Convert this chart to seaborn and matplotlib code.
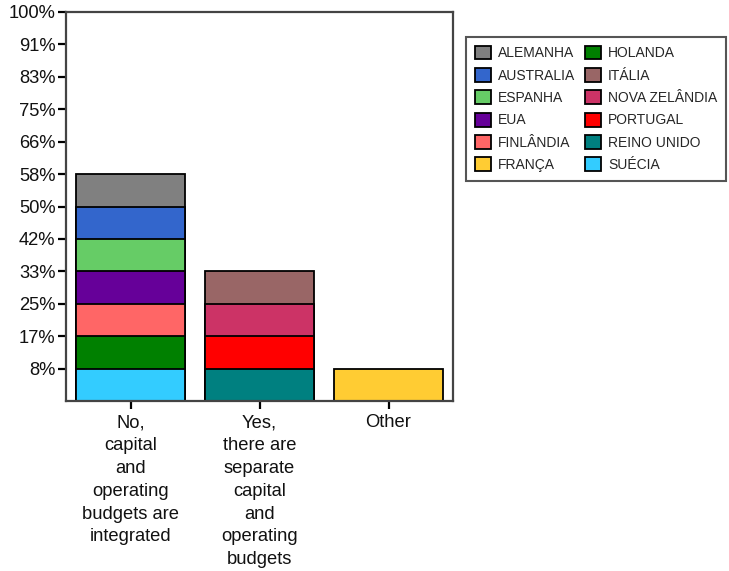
import matplotlib
matplotlib.use("Agg")
import matplotlib.pyplot as plt
from matplotlib.patches import Patch
import seaborn as sns
import pandas as pd

# Survey answers (x categories)
answers = [
    "No,\ncapital\nand\noperating\nbudgets are\nintegrated",
    "Yes,\nthere are\nseparate\ncapital\nand\noperating\nbudgets",
    "Other",
]

# Countries and the answer each one gave (index into answers)
countries = ["ALEMANHA", "AUSTRALIA", "ESPANHA", "EUA", "FINLÂNDIA", "FRANÇA",
             "HOLANDA", "ITÁLIA", "NOVA ZELÂNDIA", "PORTUGAL", "REINO UNIDO", "SUÉCIA"]
country_answer = [0, 0, 0, 0, 0, 2, 0, 1, 1, 1, 1, 0]
# Share of respondents (%) each country represents
country_share = [8.33, 8.33, 8.33, 8.33, 8.33, 8.33, 8.33, 8.33, 8.33, 8.33, 8.33, 8.33]

country_colors = ["#808080", "#3366CC", "#66CC66", "#660099", "#FF6666", "#FFCC33",
                  "#008000", "#996666", "#CC3366", "#FF0000", "#008080", "#33CCFF"]

y_tick_values = [8.33, 16.67, 25, 33.33, 41.67, 50, 58.33, 66.67, 75, 83.33, 91.67, 100]
y_tick_labels = ["8%", "17%", "25%", "33%", "42%", "50%", "58%", "66%", "75%", "83%", "91%", "100%"]

palette = dict(zip(countries, country_colors))

df = pd.DataFrame({
    "answer": [answers[i] for i in country_answer],
    "country": countries,
    "share": country_share,
})
# Stack reverse-alphabetically from the bottom so the alphabetical order reads top-down
df = df.sort_values(["answer", "country"], ascending=[True, False])
df["top"] = df.groupby("answer")["share"].cumsum()

sns.set_style("white")
plt.rcParams["font.family"] = ["Liberation Sans", "DejaVu Sans"]

fig = plt.figure(figsize=(7.29, 5.71), dpi=100)
ax = fig.add_axes([66 / 729, 1 - 401 / 571, (453 - 66) / 729, (401 - 12) / 571])

# Draw the cumulative bars from tallest to shortest so each segment shows its own colour
for _, row in df.sort_values("top", ascending=False).iterrows():
    sns.barplot(x=[row["answer"]], y=[row["top"]], order=answers,
                color=palette[row["country"]], saturation=1, width=0.84,
                edgecolor="black", linewidth=1.3, ax=ax, errorbar=None)

ax.set_xlim(-0.5, 2.5)
ax.set_ylim(0, 100)
ax.set_yticks(y_tick_values)
ax.set_yticklabels(y_tick_labels)
ax.set_xlabel("")
ax.set_ylabel("")
for t in ax.get_xticklabels():
    t.set_linespacing(1.45)

ax.tick_params(axis="both", which="both", direction="out", length=5.5, width=1.6,
               color="black", labelsize=13.2, labelcolor="#111111", pad=4, left=True, bottom=True)
ax.tick_params(axis="y", pad=2)
for s in ax.spines.values():
    s.set_visible(True)
    s.set_color("#444444")
    s.set_linewidth(1.6)

handles = [Patch(facecolor=palette[c], edgecolor="black", linewidth=1.3, label=c) for c in countries]
leg = fig.legend(handles=handles, ncol=2, loc="upper left",
                 bbox_to_anchor=(466 / 729, 1 - 37 / 571), bbox_transform=fig.transFigure,
                 frameon=True, fancybox=False, framealpha=1, edgecolor="#555555",
                 fontsize=10, handlelength=1.15, handleheight=1.15, labelspacing=0.56,
                 handletextpad=0.5, columnspacing=0.75, borderpad=0.62, borderaxespad=0)
leg.get_frame().set_linewidth(1.5)

fig.savefig("out.png", dpi=100)
